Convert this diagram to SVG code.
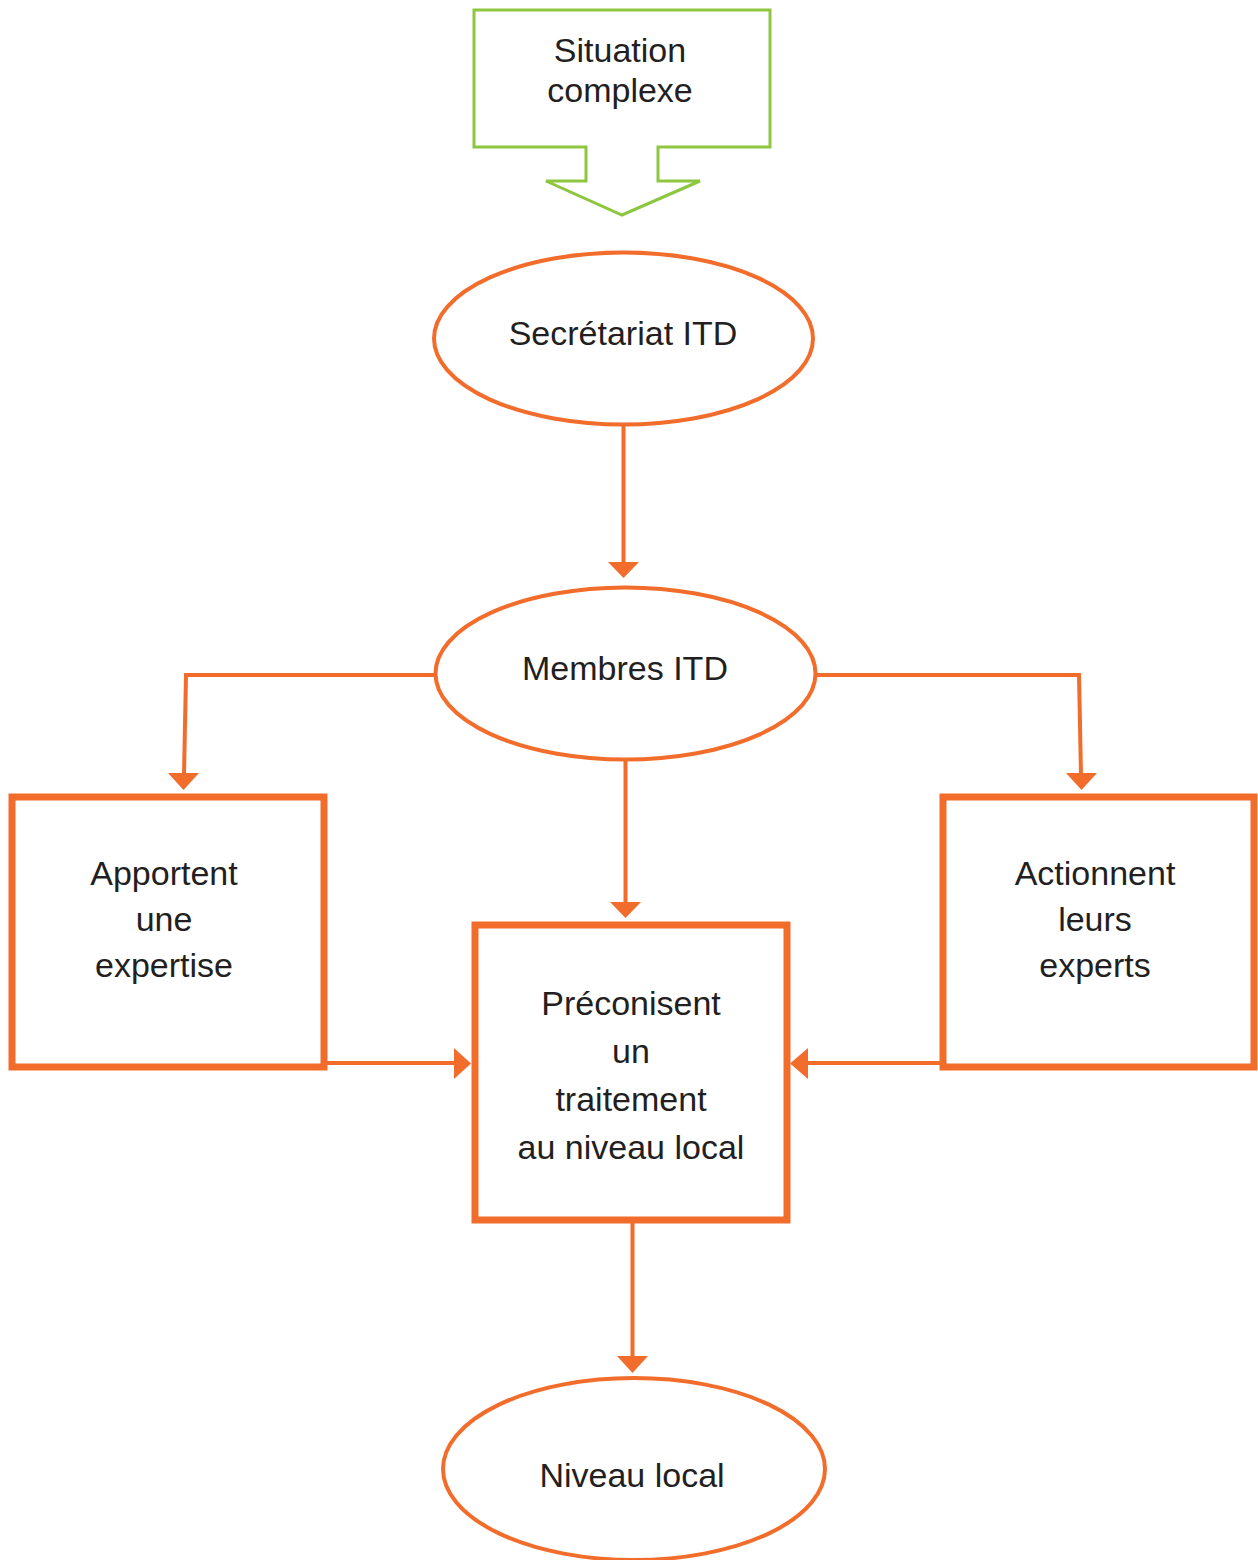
<svg xmlns="http://www.w3.org/2000/svg" width="1258" height="1560" viewBox="0 0 1258 1560">
<style>
.o{fill:none;stroke:#f26d2b;stroke-width:4}
.b{fill:none;stroke:#f26d2b;stroke-width:7}
.c{fill:none;stroke:#f26d2b;stroke-width:4}
.t{font-family:"Liberation Sans",Arial,sans-serif;font-size:34px;fill:#231f20;text-anchor:middle}
</style>
<rect width="1258" height="1560" fill="#ffffff"/>
<g id="situation">
<path d="M474,10 H770 V147 H658 V181 H700 L622,215 L546,181 H586 V147 H474 Z" fill="#ffffff" stroke="#8dc63f" stroke-width="3"/>
<text class="t" x="620" y="62">Situation</text>
<text class="t" x="620" y="102">complexe</text>
</g>
<g id="secretariat">
<ellipse cx="623.5" cy="338.5" rx="189.5" ry="86" class="o"/>
<text class="t" x="623" y="345">Secrétariat ITD</text>
</g>
<g id="membres">
<ellipse cx="625.5" cy="673.5" rx="190" ry="86" class="o"/>
<text class="t" x="625" y="680">Membres ITD</text>
</g>
<g id="apportent">
<rect x="12" y="797" width="312" height="270" class="b"/>
<text class="t" x="164" y="885">Apportent</text>
<text class="t" x="164" y="931">une</text>
<text class="t" x="164" y="977">expertise</text>
</g>
<g id="actionnent">
<rect x="943" y="797" width="311" height="270" class="b"/>
<text class="t" x="1095" y="885">Actionnent</text>
<text class="t" x="1095" y="931">leurs</text>
<text class="t" x="1095" y="977">experts</text>
</g>
<g id="preconisent">
<rect x="475" y="925" width="312" height="295" class="b"/>
<text class="t" x="631" y="1015">Préconisent</text>
<text class="t" x="631" y="1063">un</text>
<text class="t" x="631" y="1111">traitement</text>
<text class="t" x="631" y="1159">au niveau local</text>
</g>
<g id="niveau">
<ellipse cx="634" cy="1469" rx="191" ry="91" class="o"/>
<text class="t" x="632" y="1487">Niveau local</text>
</g>
<g id="connectors" fill="#f26d2b">
<path class="c" d="M623.5,425 V564"/>
<path d="M608,562 H639 L623.5,578 Z"/>
<path class="c" d="M435,675 H186 L184,775"/>
<path d="M168,773 H199 L183.5,790 Z"/>
<path class="c" d="M816,675 H1079 L1081,775"/>
<path d="M1066,773 H1097 L1081.5,790 Z"/>
<path class="c" d="M625.5,760 V904"/>
<path d="M610,902 H641 L625.5,918 Z"/>
<path class="c" d="M324,1063 H456"/>
<path d="M454,1048 V1079 L471,1063.5 Z"/>
<path class="c" d="M943,1063 H806"/>
<path d="M808,1048 V1079 L790,1063.5 Z"/>
<path class="c" d="M632.5,1220 V1358"/>
<path d="M617,1356 H648 L632.5,1373 Z"/>
</g>
</svg>
